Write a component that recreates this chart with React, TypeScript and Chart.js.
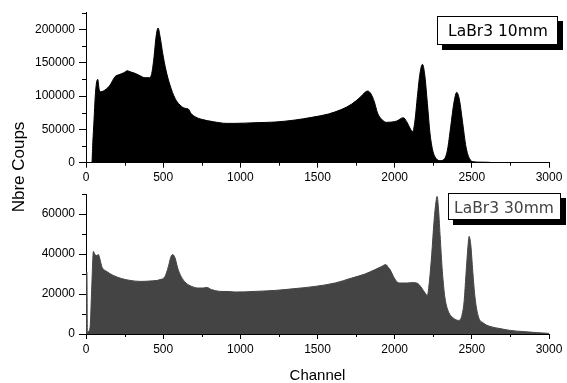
import React, { useEffect, useRef } from 'react';
import { Chart, registerables } from 'chart.js';

Chart.register(...registerables);

// ---- Data ----
const chTop = [0, 38, 44, 52, 60, 67, 76, 86, 97, 123, 156, 188, 220, 246, 268, 285, 318, 350, 382, 410, 426, 441, 454, 467, 480, 497, 518, 544, 577, 609, 642, 663, 680, 706, 750, 825, 912, 966, 1095, 1225, 1354, 1462, 1570, 1657, 1722, 1776, 1808, 1825, 1847, 1868, 1890, 1916, 1948, 1981, 2013, 2056, 2078, 2100, 2117, 2132, 2147, 2164, 2180, 2195, 2212, 2229, 2246, 2268, 2294, 2320, 2342, 2363, 2385, 2402, 2419, 2441, 2462, 2484, 2510, 2560, 2618, 2630, 3000];
const cntTop = [0, 0, 30000, 64000, 100000, 118000, 125000, 109000, 106500, 109000, 116500, 129000, 132500, 135000, 138000, 136500, 134000, 130500, 127500, 127500, 134000, 159000, 189000, 202000, 189000, 164000, 139000, 116500, 96500, 86500, 81500, 80500, 74000, 69000, 65000, 61500, 59000, 59000, 60000, 61000, 64000, 68000, 73000, 80000, 88000, 98000, 105500, 107500, 103000, 91500, 74000, 65000, 60500, 61000, 62500, 67500, 61500, 51500, 46500, 64000, 99000, 134000, 147500, 131500, 89000, 44000, 19000, 6500, 3000, 5000, 19000, 54000, 91500, 105500, 95000, 59000, 24000, 6500, 1500, 800, 500, 0, 0];

const chBot = [0, 6, 9, 15, 26, 37, 48, 58, 69, 80, 91, 102, 134, 177, 231, 285, 350, 415, 480, 512, 534, 551, 562, 577, 594, 616, 648, 685, 728, 760, 782, 814, 868, 933, 966, 1095, 1225, 1354, 1484, 1614, 1722, 1808, 1873, 1916, 1942, 1959, 1970, 1992, 2013, 2035, 2078, 2121, 2154, 2175, 2197, 2212, 2225, 2240, 2255, 2268, 2275, 2283, 2294, 2309, 2326, 2348, 2380, 2413, 2434, 2450, 2462, 2475, 2482, 2493, 2506, 2521, 2542, 2575, 2618, 2683, 2748, 2834, 2920, 3000];
const cntBot = [31000, 31000, 500, 1300, 3000, 23000, 41300, 39700, 39200, 39700, 37200, 33800, 31300, 29300, 27700, 26800, 26300, 26500, 27200, 28800, 33800, 38800, 39700, 38000, 33000, 28800, 25500, 23800, 23000, 23000, 23300, 22200, 21300, 21200, 21000, 21300, 21800, 22700, 23800, 25500, 28000, 30000, 32200, 33800, 34700, 33300, 32200, 28800, 26300, 25500, 25500, 25700, 25000, 23000, 20500, 19300, 26300, 39700, 56300, 66300, 68800, 63800, 49700, 31300, 18000, 11300, 8000, 6800, 8800, 16300, 29700, 43800, 48800, 44700, 31300, 18000, 8800, 5500, 3800, 2700, 1800, 1200, 700, 300];

const xTicks = [0, 500, 1000, 1500, 2000, 2500, 3000];
const topYTicks = [0, 50000, 100000, 150000, 200000];
const botYTicks = [0, 20000, 40000, 60000];
const xMin = 0;
const xMax = 3000;
const topYMax = 225000;
const botYMax = 70000;
const topName = 'LaBr3 10mm';
const botName = 'LaBr3 30mm';
const xTitle = 'Channel';
const yTitle = 'Nbre Coups';

const W = 567;
const H = 383;
const tickFont = { family: '"Liberation Sans", Arial, sans-serif', size: 12 };

type Box = { x: number; y: number; w: number; h: number; tx: number; ty: number; color: string; text: string };

function decorPlugin(xMinorStep: number, yMinorStep: number, yMax: number, box: Box, titles: boolean) {
  return {
    id: 'decor',
    afterDraw(chart: any) {
      const ctx = chart.ctx;
      const xs = chart.scales.x;
      const ys = chart.scales.y;
      const area = chart.chartArea;
      ctx.save();
      ctx.strokeStyle = '#000';
      ctx.lineWidth = 1;
      ctx.beginPath();
      for (let v = xMin + xMinorStep; v < xMax; v += 2 * xMinorStep) {
        const px = Math.round(xs.getPixelForValue(v)) + 0.5;
        ctx.moveTo(px, area.bottom);
        ctx.lineTo(px, area.bottom + 3);
      }
      for (let v = yMinorStep; v <= yMax; v += 2 * yMinorStep) {
        const py = Math.round(ys.getPixelForValue(v)) + 0.5;
        ctx.moveTo(area.left, py);
        ctx.lineTo(area.left - 4, py);
      }
      ctx.stroke();

      // legend box with shadow
      ctx.fillStyle = '#000';
      ctx.fillRect(box.x + 5, box.y + 5, box.w, box.h);
      ctx.fillStyle = '#fff';
      ctx.fillRect(box.x, box.y, box.w, box.h);
      ctx.strokeStyle = '#000';
      ctx.strokeRect(box.x + 0.5, box.y + 0.5, box.w - 1, box.h - 1);
      ctx.fillStyle = box.color;
      ctx.font = '15.5px "DejaVu Sans", sans-serif';
      ctx.textAlign = 'left';
      ctx.textBaseline = 'alphabetic';
      ctx.fillText(box.text, box.tx, box.ty);

      if (titles) {
        ctx.fillStyle = '#000';
        ctx.font = '17px "Liberation Sans", Arial, sans-serif';
        ctx.textAlign = 'center';
        ctx.textBaseline = 'middle';
        ctx.save();
        ctx.translate(19.5, 167);
        ctx.rotate(-Math.PI / 2);
        ctx.fillText(yTitle, 0, 0);
        ctx.restore();
      }
      ctx.restore();
    },
  };
}

function panelConfig(
  xs: number[],
  ys: number[],
  color: string,
  yMax: number,
  yTicks: number[],
  padTop: number,
  padBottom: number,
  plugin: any,
  xTitleText: string | null
) {
  return {
    type: 'line',
    data: {
      datasets: [
        {
          data: xs.map((x, i) => ({ x, y: ys[i] })),
          borderColor: color,
          backgroundColor: color,
          borderWidth: 1,
          pointRadius: 0,
          fill: 'origin',
          cubicInterpolationMode: 'monotone',
        },
      ],
    },
    options: {
      animation: false,
      responsive: false,
      events: [],
      layout: { padding: { left: 0, right: 18, top: padTop, bottom: padBottom } },
      plugins: {
        legend: { display: false },
        tooltip: { enabled: false },
        title: { display: false },
      },
      scales: {
        x: {
          type: 'linear',
          min: xMin,
          max: xMax,
          afterFit: (s: any) => {
            s.height = 20;
          },
          afterBuildTicks: (s: any) => {
            s.ticks = xTicks.map((v) => ({ value: v }));
          },
          ticks: {
            color: '#000',
            font: tickFont,
            padding: 3,
            maxRotation: 0,
            autoSkip: false,
            callback: (v: any) => String(v),
          },
          grid: { display: true, drawOnChartArea: false, drawTicks: true, tickLength: 5, color: '#000' },
          border: { display: true, color: '#000', width: 1 },
          title: { display: false },
        },
        y: {
          type: 'linear',
          min: 0,
          max: yMax,
          afterFit: (s: any) => {
            s.width = 86;
          },
          afterBuildTicks: (s: any) => {
            s.ticks = yTicks.map((v) => ({ value: v }));
          },
          ticks: {
            color: '#000',
            font: tickFont,
            padding: 4,
            autoSkip: false,
            callback: (v: any) => String(v),
          },
          grid: { display: true, drawOnChartArea: false, drawTicks: true, tickLength: 7, color: '#000' },
          border: { display: true, color: '#000', width: 1 },
        },
      },
    },
    plugins: [
      plugin,
      {
        id: 'xtitle',
        afterDraw(chart: any) {
          if (!xTitleText) return;
          const ctx = chart.ctx;
          const a = chart.chartArea;
          ctx.save();
          ctx.fillStyle = '#000';
          ctx.font = '15px "Liberation Sans", Arial, sans-serif';
          ctx.textAlign = 'center';
          ctx.textBaseline = 'middle';
          ctx.fillText(xTitleText, (a.left + a.right) / 2, 375.5);
          ctx.restore();
        },
      },
    ],
  };
}

export default function App() {
  const topRef = useRef<HTMLCanvasElement | null>(null);
  const botRef = useRef<HTMLCanvasElement | null>(null);

  useEffect(() => {
    document.body.style.margin = '0';
    const topPlugin = decorPlugin(250, 25000, topYMax, { x: 437, y: 16, w: 121, h: 29, tx: 448, ty: 36, color: '#000', text: topName }, true);
    const botPlugin = decorPlugin(250, 10000, botYMax, { x: 448, y: 193, w: 113, h: 27, tx: 454, ty: 212.5, color: '#444', text: botName }, false);
    const c1 = new Chart(topRef.current as HTMLCanvasElement, panelConfig(chTop, cntTop, '#000', topYMax, topYTicks, 12.7, H - 20 - 162.7, topPlugin, null) as any);
    const c2 = new Chart(botRef.current as HTMLCanvasElement, panelConfig(chBot, cntBot, '#444', botYMax, botYTicks, 194, H - 20 - 334, botPlugin, xTitle) as any);
    return () => {
      c1.destroy();
      c2.destroy();
    };
  }, []);

  return (
    <div style={{ position: 'fixed', left: 0, top: 0, width: W, height: H, background: '#fff' }}>
      <canvas ref={topRef} width={W} height={H} style={{ position: 'absolute', left: 0, top: 0, width: W, height: H }} />
      <canvas ref={botRef} width={W} height={H} style={{ position: 'absolute', left: 0, top: 0, width: W, height: H }} />
    </div>
  );
}
